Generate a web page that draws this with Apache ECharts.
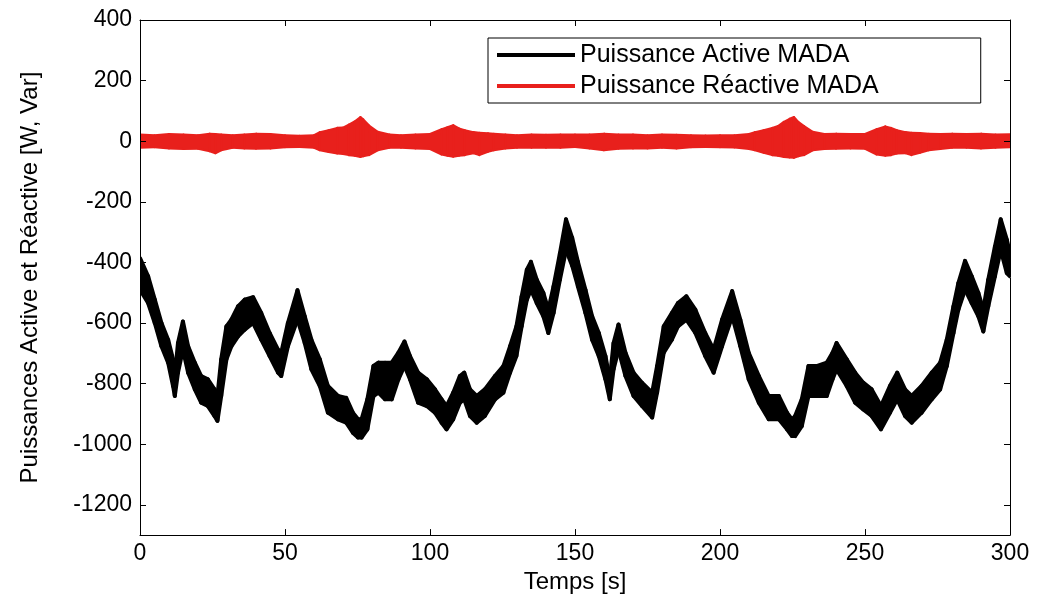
<!DOCTYPE html>
<html>
<head>
<meta charset="utf-8">
<script src="https://cdn.jsdelivr.net/npm/echarts@6/dist/echarts.min.js"></script>
<style>
  html, body { margin: 0; padding: 0; background: #fff; }
  #chart { width: 1042px; height: 599px; }
</style>
</head>
<body>
<div id="chart"></div>
<script>
// ---- Data ----
const xTicks = [0, 50, 100, 150, 200, 250, 300];
const yTicks = [-1200, -1000, -800, -600, -400, -200, 0, 200, 400];

// Active power (black): time [s], upper and lower edge of the noisy band [W]
const activeTime = [0, 2.8, 5.1, 7.4, 9.7, 11.4, 12, 13.1, 14.8, 16.6, 18.9, 21.1, 23.4, 25.7, 26.7, 28, 29.8, 31.5, 33.8, 36.1,
  39, 41.8, 44.7, 47.6, 48.7, 51, 54.3, 56.8, 59.1, 62, 64.8, 68.3, 71.1, 73.4, 75.2, 76.4, 78.4, 80.5, 82.2, 84.5,
  86.8, 89.1, 91.2, 93.1, 95.9, 98.9, 101.7, 104, 105.7, 108, 110.3, 111.8, 113.8, 116.1, 118.9, 122.4, 125.3, 127.6, 129.8, 131.6,
  133.4, 134.8, 136.8, 139.1, 140.8, 142.6, 144.8, 146.9, 149, 151, 153.6, 155.9, 158.2, 160.5, 162, 163.3, 165, 167.4, 170.2, 173.1,
  176.6, 178.3, 180.6, 183.4, 185.5, 188.4, 191.5, 194.9, 197.8, 200.7, 204.2, 207, 209.9, 213.4, 216.8, 220.3, 223.1, 224.8, 225.9, 228.2,
  230.5, 233.3, 236.8, 238.8, 240.2, 243.7, 246.6, 249.4, 252.3, 255.5, 258.6, 261.1, 263.8, 266.1, 269.5, 273, 275.9, 278.2, 280.5, 282.2,
  284.5, 286.8, 289.1, 290.8, 292.5, 294.8, 296.8, 298.9, 300];
const activeHigh = [-386, -446, -523, -600, -655, -720, -775, -666, -595, -677, -731, -775, -786, -819, -841, -720, -611, -589, -545, -523,
  -515, -567, -633, -688, -698, -600, -492, -578, -655, -720, -808, -841, -847, -896, -918, -918, -852, -742, -731, -731,
  -731, -698, -661, -709, -764, -786, -819, -852, -874, -830, -775, -764, -819, -841, -819, -775, -742, -677, -611, -512,
  -424, -398, -457, -501, -556, -479, -370, -258, -318, -398, -490, -578, -633, -709, -786, -666, -605, -698, -764, -797,
  -830, -742, -611, -567, -534, -512, -556, -633, -688, -589, -495, -589, -698, -775, -841, -841, -896, -918, -907, -852,
  -742, -742, -731, -698, -666, -720, -764, -797, -819, -874, -808, -764, -819, -841, -808, -764, -731, -655, -545, -468,
  -395, -446, -501, -556, -457, -348, -258, -325, -370];
const activeLow = [-490, -534, -600, -677, -731, -808, -841, -764, -688, -764, -819, -863, -874, -907, -923, -841, -720, -677, -644, -622,
  -600, -655, -709, -764, -775, -677, -589, -666, -753, -808, -896, -918, -929, -962, -978, -978, -951, -841, -830, -852,
  -852, -786, -742, -786, -863, -874, -896, -929, -951, -918, -863, -852, -907, -929, -907, -852, -830, -764, -709, -611,
  -523, -490, -534, -578, -633, -567, -457, -359, -410, -479, -567, -655, -709, -786, -852, -753, -688, -775, -841, -874,
  -912, -830, -698, -655, -611, -589, -633, -709, -764, -677, -578, -677, -786, -863, -918, -918, -951, -973, -973, -940,
  -841, -841, -841, -786, -753, -808, -863, -885, -907, -951, -896, -852, -907, -929, -896, -852, -819, -742, -633, -556,
  -490, -534, -578, -628, -545, -446, -359, -435, -446];

// Reactive power (red): time [s], upper and lower edge of the noisy band [Var]
const reactiveTime = [0, 5, 10, 15, 20, 24, 26, 28, 32, 36, 40, 45, 50, 55, 60, 62, 65, 68, 70, 72,
  74, 76, 77, 79, 82, 86, 90, 95, 100, 104, 106, 108, 110, 112, 115, 117, 120, 122, 126, 130,
  135, 140, 145, 150, 155, 160, 165, 170, 175, 180, 185, 190, 195, 200, 205, 210, 212, 215, 218, 220,
  222, 224, 225.5, 227, 229, 232, 236, 240, 245, 250, 254, 257, 259, 261, 264, 266, 269, 272, 276, 280,
  285, 290, 295, 300];
const reactiveHigh = [22, 20, 24, 22, 20, 25, 24, 22, 20, 22, 25, 24, 20, 18, 20, 30, 36, 44, 45, 55,
  65, 80, 72, 52, 31, 22, 20, 22, 24, 40, 46, 53, 42, 36, 30, 28, 26, 25, 22, 20,
  22, 21, 22, 22, 22, 25, 22, 22, 20, 22, 21, 20, 19, 20, 20, 24, 30, 36, 44, 50,
  64, 74, 80, 64, 50, 31, 24, 25, 24, 24, 40, 49, 44, 36, 30, 28, 27, 25, 24, 25,
  24, 25, 22, 23];
const reactiveLow = [-22, -20, -24, -26, -25, -33, -40, -30, -22, -24, -25, -24, -20, -19, -22, -30, -36, -41, -42, -46,
  -48, -52, -50, -46, -30, -22, -22, -24, -26, -44, -48, -51, -48, -46, -40, -46, -35, -30, -24, -22,
  -22, -22, -22, -19, -24, -30, -25, -24, -24, -22, -24, -20, -19, -20, -21, -26, -30, -38, -46, -48,
  -52, -54, -55, -50, -46, -30, -26, -25, -24, -25, -44, -48, -46, -41, -40, -46, -38, -30, -26, -22,
  -22, -24, -22, -20];

const NAME_P = 'Puissance Active MADA';
const NAME_Q = 'Puissance Réactive MADA';
const FONT = 'Liberation Sans, Arial, Helvetica, sans-serif';
const BLACK = '#000000';
const RED = '#e8201c';

// Build band segments: [t0, low0, high0, t1, low1, high1]
function bandSegments(t, hi, lo) {
  const out = [];
  for (let i = 0; i < t.length - 1; i++) {
    out.push([t[i], lo[i], hi[i], t[i + 1], lo[i + 1], hi[i + 1]]);
  }
  return out;
}

function bandRenderer(color, strokeW) {
  return function (params, api) {
    const a = api.coord([api.value(0), api.value(2)]);
    const b = api.coord([api.value(3), api.value(5)]);
    const c = api.coord([api.value(3), api.value(4)]);
    const d = api.coord([api.value(0), api.value(1)]);
    return {
      type: 'polygon',
      shape: { points: [a, b, c, d] },
      style: { fill: color, stroke: color, lineWidth: strokeW, lineJoin: 'round' }
    };
  };
}

const chart = echarts.init(document.getElementById('chart'), null, { renderer: 'canvas' });

const tickStyle = { inside: true, length: 6, lineStyle: { color: '#000', width: 1 } };
const lineAxis = { onZero: false, lineStyle: { color: '#000', width: 1 } };

chart.setOption({
  animation: false,
  backgroundColor: '#fff',
  textStyle: { fontFamily: FONT },
  grid: { left: 140, right: 32, top: 20, bottom: 63, containLabel: false },
  legend: {
    data: [NAME_P, NAME_Q],
    orient: 'vertical',
    left: 488,
    top: 38,
    icon: 'rect',
    itemWidth: 78,
    itemHeight: 4,
    itemGap: 5,
    padding: [4, 102, 4, 9],
    borderColor: '#000',
    borderWidth: 1,
    backgroundColor: '#fff',
    textStyle: { fontSize: 25, color: '#000', fontFamily: FONT, lineHeight: 26 }
  },
  xAxis: [{
    type: 'value', min: 0, max: 300, interval: 50, position: 'bottom', z: 10,
    axisLine: lineAxis, axisTick: tickStyle,
    axisLabel: { fontSize: 23, color: '#000', margin: 7, fontFamily: FONT, formatter: v => String(v) },
    splitLine: { show: false },
    name: 'Temps [s]', nameLocation: 'middle', nameGap: 31,
    nameTextStyle: { fontSize: 24, color: '#000', fontFamily: FONT }
  }, {
    type: 'value', min: 0, max: 300, interval: 50, position: 'top', z: 10,
    axisLine: lineAxis, axisTick: tickStyle,
    axisLabel: { show: false }, splitLine: { show: false }
  }],
  yAxis: [{
    type: 'value', min: -1300, max: 400, position: 'left', z: 10,
    axisLine: lineAxis,
    axisTick: Object.assign({ customValues: yTicks }, tickStyle),
    axisLabel: { customValues: yTicks, fontSize: 23, color: '#000', margin: 8, fontFamily: FONT, formatter: v => String(v) },
    splitLine: { show: false },
    name: 'Puissances Active et Réactive [W, Var]', nameLocation: 'middle', nameGap: 98,
    nameTextStyle: { fontSize: 24, color: '#000', fontFamily: FONT }
  }, {
    type: 'value', min: -1300, max: 400, position: 'right', z: 10,
    axisLine: lineAxis,
    axisTick: Object.assign({ customValues: yTicks }, tickStyle),
    axisLabel: { show: false, customValues: yTicks }, splitLine: { show: false }
  }],
  series: [
    {
      name: NAME_P, type: 'custom', coordinateSystem: 'cartesian2d', clip: true,
      data: bandSegments(activeTime, activeHigh, activeLow),
      encode: { x: [0, 3], y: [1, 2, 4, 5] },
      itemStyle: { color: BLACK },
      renderItem: bandRenderer(BLACK, 4)
    },
    {
      name: NAME_Q, type: 'custom', coordinateSystem: 'cartesian2d', clip: true,
      data: bandSegments(reactiveTime, reactiveHigh, reactiveLow),
      encode: { x: [0, 3], y: [1, 2, 4, 5] },
      itemStyle: { color: RED },
      renderItem: bandRenderer(RED, 2)
    }
  ]
});
</script>
</body>
</html>
